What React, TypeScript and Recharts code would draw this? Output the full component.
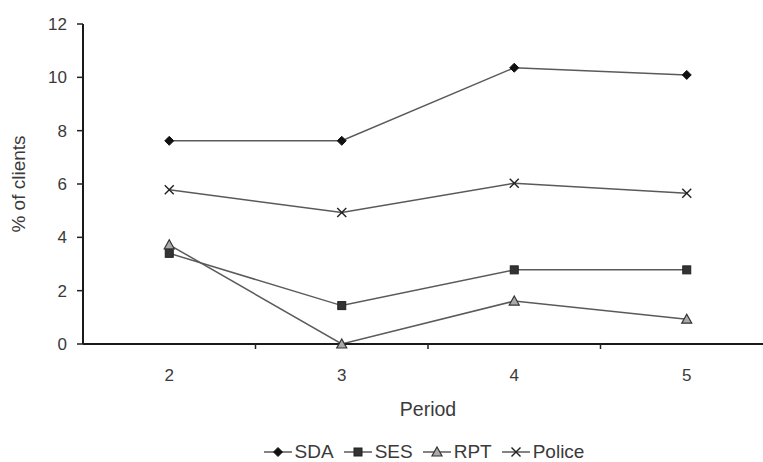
import React from "react";
import { LineChart, Line, XAxis, YAxis, Legend } from "recharts";

const periods = [2, 3, 4, 5];
const sdaValues = [7.62, 7.62, 10.36, 10.09];
const sesValues = [3.4, 1.44, 2.78, 2.78];
const rptValues = [3.72, 0, 1.61, 0.93];
const policeValues = [5.78, 4.93, 6.03, 5.65];
const yTicks = [0, 2, 4, 6, 8, 10, 12];
const xTicks = [2, 2.5, 3, 3.5, 4, 4.5, 5];

const data = periods.map((p, i) => ({
  period: p,
  SDA: sdaValues[i],
  SES: sesValues[i],
  RPT: rptValues[i],
  Police: policeValues[i],
}));

const FONT = "'Liberation Sans', Arial, sans-serif";
const TEXT = "#3a3a3a";
const LINE = "#5a5a5a";
const TICK_SIZE = 6;
const TICK_MARGIN = 19;

type Kind = "diamond" | "square" | "triangle" | "cross";

function MarkerShape({ kind, cx, cy }: { kind: Kind; cx: number; cy: number }) {
  if (kind === "diamond") {
    const r = 4.5;
    return (
      <polygon
        points={`${cx},${cy - r} ${cx + r},${cy} ${cx},${cy + r} ${cx - r},${cy}`}
        fill="#111"
        stroke="#111"
        strokeWidth={1}
      />
    );
  }
  if (kind === "square") {
    const r = 4;
    return <rect x={cx - r} y={cy - r} width={2 * r} height={2 * r} fill="#333" stroke="#222" strokeWidth={1} />;
  }
  if (kind === "triangle") {
    const r = 5;
    return (
      <polygon
        points={`${cx},${cy - r} ${cx + r},${cy + r * 0.8} ${cx - r},${cy + r * 0.8}`}
        fill="#aaa"
        stroke="#333"
        strokeWidth={1.2}
      />
    );
  }
  const r = 4.5;
  return (
    <g stroke="#222" strokeWidth={1.4}>
      <line x1={cx - r} y1={cy - r} x2={cx + r} y2={cy + r} />
      <line x1={cx - r} y1={cy + r} x2={cx + r} y2={cy - r} />
    </g>
  );
}

const series: { key: string; kind: Kind }[] = [
  { key: "SDA", kind: "diamond" },
  { key: "SES", kind: "square" },
  { key: "RPT", kind: "triangle" },
  { key: "Police", kind: "cross" },
];

function XTick(props: any) {
  const { x, y, payload } = props;
  const v = payload.value;
  const axisY = y - TICK_SIZE - TICK_MARGIN;
  if (Math.abs(v - Math.round(v)) > 0.01) {
    return <line x1={x} x2={x} y1={axisY - 1} y2={axisY + 5} stroke="#222" strokeWidth={1.5} />;
  }
  return (
    <text x={x} y={y} dy={12} textAnchor="middle" fill={TEXT} fontSize={17} fontFamily={FONT}>
      {v}
    </text>
  );
}

function LegendContent() {
  return (
    <div
      style={{
        display: "flex",
        justifyContent: "center",
        alignItems: "center",
        height: 20,
        fontFamily: FONT,
        fontSize: 19,
        color: TEXT,
      }}
    >
      {series.map((s) => (
        <div key={s.key} style={{ display: "flex", alignItems: "center", marginRight: 9 }}>
          <svg width={30} height={14} style={{ marginRight: 2 }}>
            <line x1={1} x2={29} y1={7} y2={7} stroke={LINE} strokeWidth={1.5} />
            <MarkerShape kind={s.kind} cx={15} cy={7} />
          </svg>
          <span>{s.key}</span>
        </div>
      ))}
    </div>
  );
}

export default function App() {
  return (
    <div style={{ position: "absolute", left: 0, top: 0, width: 763, height: 462, overflow: "hidden", background: "#fff" }}>
      <LineChart width={773} height={462} data={data} margin={{ top: 24, right: 0, left: 0, bottom: 0 }}>
        <XAxis
          type="number"
          dataKey="period"
          domain={[1.5, 5.5]}
          ticks={xTicks}
          interval={0}
          tick={<XTick />}
          tickLine={false}
          tickSize={TICK_SIZE}
          tickMargin={TICK_MARGIN}
          axisLine={{ stroke: "#1a1a1a", strokeWidth: 2 }}
          height={98}
          label={{ value: "Period", position: "insideBottom", offset: 26, fill: TEXT, fontSize: 19.5, fontFamily: FONT }}
        />
        <YAxis
          type="number"
          domain={[0, 12]}
          ticks={yTicks}
          interval={0}
          width={83}
          tickSize={6}
          tickMargin={10}
          tick={{ fill: TEXT, fontSize: 17, fontFamily: FONT }}
          tickLine={{ stroke: "#222", strokeWidth: 1.5 }}
          axisLine={{ stroke: "#1a1a1a", strokeWidth: 2 }}
          label={{
            value: "% of clients",
            angle: -90,
            position: "insideLeft",
            offset: 18,
            fill: TEXT,
            fontSize: 19,
            fontFamily: FONT,
            style: { textAnchor: "middle" },
          }}
        />
        <Legend verticalAlign="bottom" height={20} content={<LegendContent />} wrapperStyle={{ left: 83, width: 690 }} />
        {series.map((s) => (
          <Line
            key={s.key}
            type="linear"
            dataKey={s.key}
            stroke={LINE}
            strokeWidth={1.5}
            isAnimationActive={false}
            legendType="none"
            dot={(p: any) => <MarkerShape key={`${s.key}-${p.index}`} kind={s.kind} cx={p.cx} cy={p.cy} />}
            activeDot={false}
          />
        ))}
      </LineChart>
    </div>
  );
}
